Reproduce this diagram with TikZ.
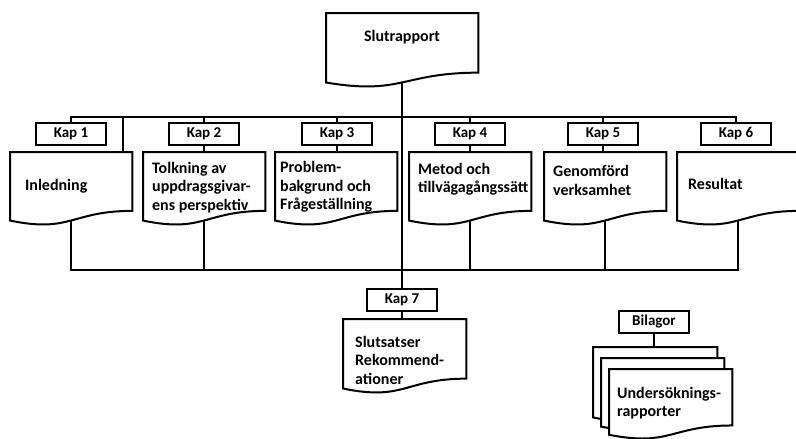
\documentclass[tikz,border=0pt]{standalone}
\usepackage{fontspec}
\setmainfont{Carlito}
\usetikzlibrary{calc}
\pgfdeclarelayer{bg}
\pgfsetlayers{bg,main}

\tikzset{
  wire/.style={line width=2pt},
  docbox/.style={draw=none, inner sep=0pt, minimum width=122pt, minimum height=73pt, anchor=north west},
  docline/.style={line width=2pt, fill=white, line join=miter},
  % multi-line texts are placed by the baseline of their last line
  doctext/.style={inner sep=0pt, anchor=base west, align=left, font=\bfseries\fontsize{16}{18.5}\selectfont},
  kapbox/.style={draw, line width=2pt, fill=white, minimum width=70pt, minimum height=22pt, inner sep=0pt, font=\bfseries\fontsize{15}{17}\selectfont},
}

% outline of a flowchart "document" symbol laid over a rectangular node
\newcommand\docoutline[1]{%
  \draw[docline] (#1.north west) -- (#1.north east) -- ($(#1.north east)!0.802!(#1.south east)$)
    .. controls ($(#1.north)!0.802!(#1.south)$) and ($(#1.north)!1.1075!(#1.south)$)
    .. ($(#1.north west)!0.934!(#1.south west)$) -- cycle;}

\begin{document}
\begin{tikzpicture}[x=1pt,y=-1pt]
\useasboundingbox (0,0) rectangle (796,439);

% document frames
\node[docbox, minimum width=152pt, minimum height=74pt] (slut) at (326,13) {};
\node[docbox] (inl) at (10,152) {};
\node[docbox] (tol) at (143,152) {};
\node[docbox] (pro) at (275,152) {};
\node[docbox] (met) at (409,152) {};
\node[docbox] (gen) at (544,152) {};
\node[docbox] (res) at (677,152) {};
\node[docbox, minimum width=123pt, minimum height=74pt] (sls) at (343,319) {};
\node[docbox, minimum width=124pt, minimum height=75pt] (b1) at (593,347) {};
\node[docbox, minimum width=123pt, minimum height=73pt] (b2) at (601,358) {};
\node[docbox, minimum width=123pt, minimum height=70pt] (b3) at (609,369) {};

\foreach \d in {slut,inl,tol,pro,met,gen,res,sls,b1,b2,b3} {\docoutline{\d}}

% texts of the documents
\node[doctext, anchor=base] (slutT) at (402,41.7) {Slutrapport};
\node[doctext] (inlT) at (25,190) {Inledning};
\node[doctext] (tolT) at (152,210) {Tolkning av\\uppdragsgivar-\\ens perspektiv};
\node[doctext] (proT) at (280,209.5) {Problem-\\bakgrund och\\Frågeställning};
\node[doctext] (metT) at (418,192.7) {Metod och\\tillvägagångssätt};
\node[doctext] (genT) at (553,195) {Genomförd\\verksamhet};
\node[doctext] (resT) at (688,189) {Resultat};
\node[doctext] (slsT) at (355,384) {Slutsatser\\Rekommend-\\ationer};
\node[doctext] (bT) at (617,416.5) {Undersöknings-\\rapporter};

% chapter labels
\node[kapbox] (kap1) at (71,134) {Kap 1};
\node[kapbox] (kap2) at (204,134) {Kap 2};
\node[kapbox] (kap3) at (337,134) {Kap 3};
\node[kapbox] (kap4) at (470,134) {Kap 4};
\node[kapbox] (kap5) at (603,134) {Kap 5};
\node[kapbox] (kap6) at (736,134) {Kap 6};
\node[kapbox] (kap7) at (402,299.5) {Kap 7};
\node[kapbox] (bil) at (654,321.5) {Bilagor};

\coordinate (tbus) at (0,117);
\coordinate (bbus) at (0,270);

\begin{pgfonlayer}{bg}
  % upper distribution line
  \draw[wire] (kap1.north) |- (tbus -| kap6.north) -- (kap6.north);
  \foreach \k in {kap2,kap3,kap4,kap5} {\draw[wire] (\k.north) -- (\k.north |- tbus);}
  \draw[wire] ([xshift=-9pt]inl.north east) -- ([xshift=-9pt]inl.north east |- tbus);
  \foreach \k/\d in {kap2/tol,kap3/pro,kap4/met,kap5/gen} {\draw[wire] (\k.south) -- (\k.south |- \d.north);}
  % main trunk
  \draw[wire] (slut.center) -- (slut.center |- kap7.north);
  % lower collecting line
  \draw[wire] (inl.center) |- (bbus -| res.center) -- (res.center);
  \foreach \d in {tol,met,gen} {\draw[wire] (\d.center) -- (\d.center |- bbus);}
  \draw[wire] (kap7.south) -- (kap7.south |- sls.north);
  \draw[wire] (bil.south) -- (bil.south |- b1.north);
\end{pgfonlayer}
\end{tikzpicture}
\end{document}
